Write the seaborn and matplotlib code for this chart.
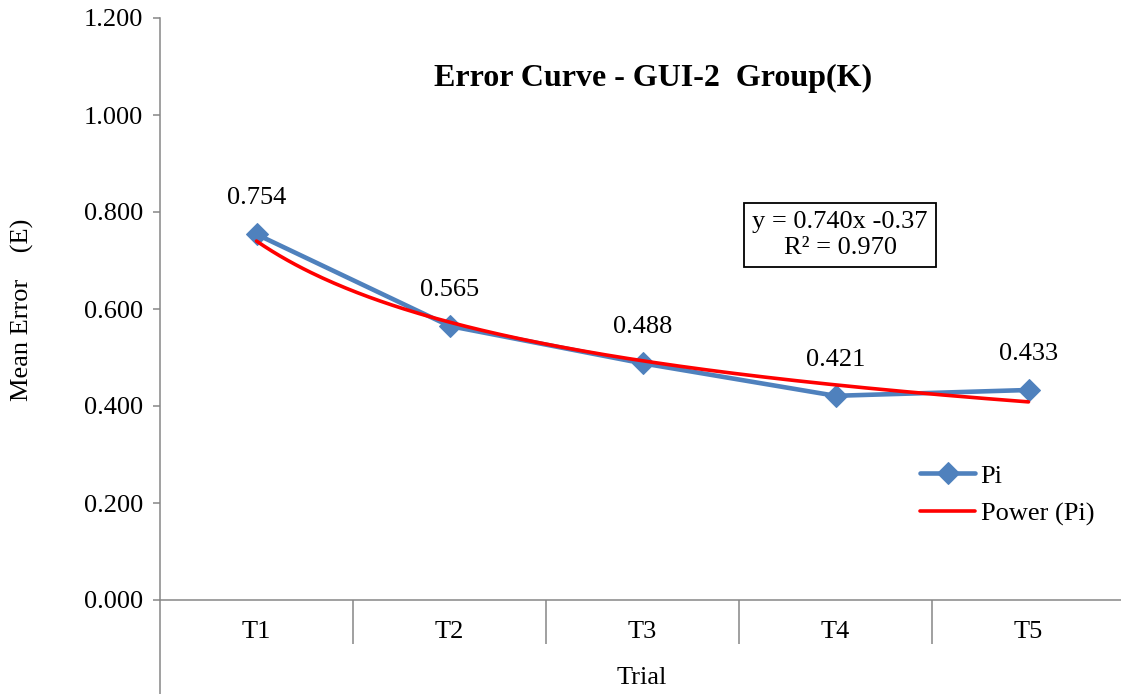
import numpy as np
import pandas as pd
import matplotlib
matplotlib.use("Agg")
import matplotlib.pyplot as plt
import seaborn as sns
from matplotlib.ticker import FormatStrFormatter

# Mean error per trial
trials = ["T1", "T2", "T3", "T4", "T5"]
mean_error = [0.754, 0.565, 0.488, 0.421, 0.433]
y_ticks = [0.0, 0.2, 0.4, 0.6, 0.8, 1.0, 1.2]

title_text = "Error Curve - GUI-2  Group(K)"
equation_text = "y = 0.740x -0.37\nR² = 0.970"
series_name = "Pi"
trend_name = "Power (Pi)"

sns.set_theme(style="white")
plt.rcParams["font.family"] = ["Liberation Serif", "DejaVu Serif"]
plt.rcParams["text.color"] = "black"

W, H = 1121, 694
FS = 19
GRAY = "#868686"
BLUE = "#4F81BD"

fig = plt.figure(figsize=(W / 100, H / 100), dpi=100)
fig.patch.set_facecolor("white")
ax = fig.add_axes([160 / W, 94 / H, 965 / W, 582 / H])
ax.set_facecolor("white")

df = pd.DataFrame({"pos": np.arange(len(trials)), "value": mean_error})
sns.lineplot(data=df, x="pos", y="value", ax=ax, color=BLUE, lw=3.3,
             marker="D", markersize=11, markeredgecolor=BLUE,
             markerfacecolor=BLUE, label=series_name, zorder=3)

# Power-law trendline fitted in log-log space
xs = np.arange(1, len(trials) + 1)
b, ln_a = np.polyfit(np.log(xs), np.log(mean_error), 1)
xf = np.linspace(1, len(trials), 200)
trend = pd.DataFrame({"pos": xf - 1, "value": np.exp(ln_a) * xf ** b})
sns.lineplot(data=trend, x="pos", y="value", ax=ax, color="#FF0000", lw=2.6,
             label=trend_name, zorder=4)

# Value labels above points
for i, v in enumerate(mean_error):
    ax.annotate(f"{v:.3f}", (i, v), xytext=(0, 26), textcoords="offset points",
                ha="center", va="center", fontsize=FS, color="black")

ax.set_xlim(-0.5, len(trials) - 0.5)
ax.set_ylim(0, 1.2)
ax.set_xticks(range(len(trials)))
ax.set_xticklabels(trials)
ax.set_xticks(np.arange(0.5, len(trials) - 1, 1), minor=True)
ax.set_yticks(y_ticks)
ax.yaxis.set_major_formatter(FormatStrFormatter("%.3f"))
ax.tick_params(axis="x", which="major", bottom=True, length=0, pad=15,
               labelsize=FS, labelcolor="black")
ax.tick_params(axis="x", which="minor", bottom=True, length=32, width=1.1,
               color=GRAY, direction="out")
ax.tick_params(axis="y", which="major", left=True, length=5, width=1.1,
               color=GRAY, direction="out", pad=7, labelsize=FS,
               labelcolor="black")
ax.set_xlabel("")
ax.set_ylabel("")

for side in ["top", "right"]:
    ax.spines[side].set_visible(False)
for side in ["left", "bottom"]:
    ax.spines[side].set_color(GRAY)
    ax.spines[side].set_linewidth(1.1)
ax.spines["left"].set_bounds(-0.2, 1.2)

# Titles and axis labels
fig.text(653 / W, 1 - 78 / H, title_text, ha="center", va="center",
         fontsize=23, fontweight="bold", color="black")
fig.text(22 / W, 1 - 310 / H, "Mean Error    (E)", rotation=90,
         ha="center", va="center", fontsize=FS, color="black")
fig.text(642 / W, 1 - 678 / H, "Trial", ha="center", va="center",
         fontsize=FS, color="black")

# Fit equation box
fig.text(840 / W, 1 - 235 / H, equation_text, ha="center", va="center",
         multialignment="center", fontsize=FS, linespacing=1.2, color="black",
         bbox=dict(boxstyle="square,pad=0.3", fc="white", ec="black", lw=1.3))

leg = ax.legend(loc="center left", bbox_to_anchor=(920 / W, 1 - 495 / H),
                bbox_transform=fig.transFigure, frameon=False, fontsize=FS,
                handlelength=2.1, handletextpad=0.2, labelspacing=0.55,
                borderaxespad=0, borderpad=0, numpoints=1)
for t in leg.get_texts():
    t.set_color("black")

fig.savefig("out.png", dpi=100, facecolor="white")
